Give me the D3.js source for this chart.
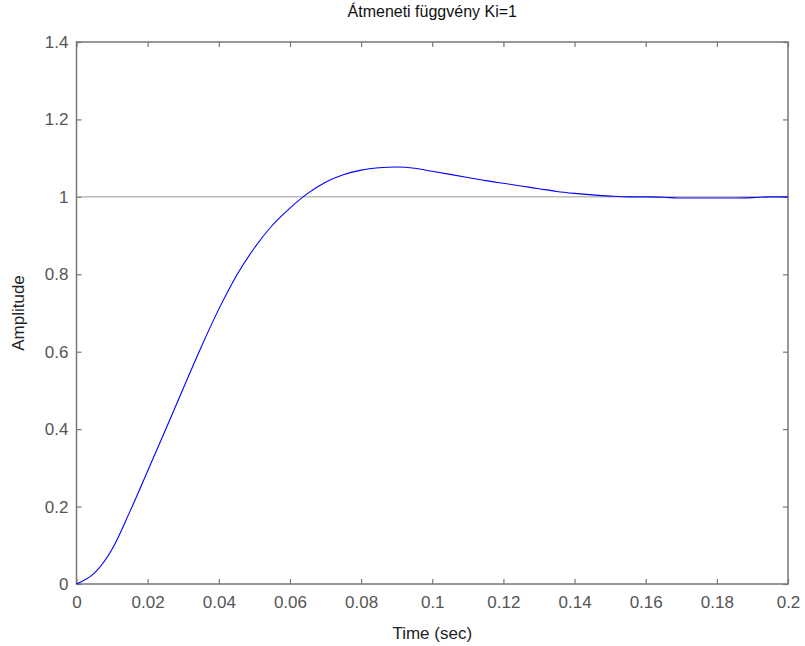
<!DOCTYPE html>
<html>
<head>
<meta charset="utf-8">
<script src="https://cdn.jsdelivr.net/npm/d3@7"></script>
<style>
  body { margin: 0; background: #fff; }
  text { font-family: "Liberation Sans", Arial, sans-serif; }
</style>
</head>
<body>
<div id="chart"></div>
<script>
/* step response, values every 5 ms */
var time = [0, 0.005, 0.01, 0.015, 0.02, 0.025, 0.03, 0.035, 0.04, 0.045, 0.05,
  0.055, 0.06, 0.065, 0.07, 0.075, 0.08, 0.085, 0.09, 0.095, 0.1,
  0.105, 0.11, 0.115, 0.12, 0.125, 0.13, 0.135, 0.14, 0.145, 0.15,
  0.155, 0.16, 0.165, 0.17, 0.175, 0.18, 0.185, 0.19, 0.195, 0.2];
var amplitude = [0, 0.028, 0.09, 0.187, 0.292, 0.398, 0.505, 0.611, 0.710, 0.797, 0.868,
  0.926, 0.971, 1.009, 1.038, 1.057, 1.069, 1.075, 1.077, 1.074, 1.066,
  1.058, 1.050, 1.042, 1.035, 1.028, 1.021, 1.014, 1.009, 1.005, 1.002,
  1.000, 1.000, 0.999, 0.997, 0.997, 0.997, 0.997, 0.998, 1.000, 1.000];
var xTicks = [0, 0.02, 0.04, 0.06, 0.08, 0.1, 0.12, 0.14, 0.16, 0.18, 0.2];
var yTicks = [0, 0.2, 0.4, 0.6, 0.8, 1, 1.2, 1.4];
var finalValue = 1;

var W = 805, H = 646;
var margin = { top: 42, right: 17, bottom: 62, left: 76.5 };
var width = W - margin.left - margin.right;
var height = H - margin.top - margin.bottom;

var svg = d3.select("#chart").append("svg")
  .attr("width", W)
  .attr("height", H);

var g = svg.append("g")
  .attr("transform", "translate(" + margin.left + "," + margin.top + ")");

var x = d3.scaleLinear().domain([0, 0.2]).range([0, width]);
var y = d3.scaleLinear().domain([0, 1.4]).range([height, 0]);

var fmt = function(d) { return String(+d.toFixed(2)); };
var axisColor = "#777";
var tickLen = 5;

// axes: inward ticks on all four sides
var xb = g.append("g").attr("transform", "translate(0," + height + ")")
  .call(d3.axisBottom(x).tickValues(xTicks).tickFormat(fmt).tickSizeInner(-tickLen).tickSizeOuter(0).tickPadding(12));
var xt = g.append("g")
  .call(d3.axisTop(x).tickValues(xTicks).tickFormat("").tickSizeInner(-tickLen).tickSizeOuter(0));
var yl = g.append("g")
  .call(d3.axisLeft(y).tickValues(yTicks).tickFormat(fmt).tickSizeInner(-tickLen).tickSizeOuter(0).tickPadding(8));
var yr = g.append("g").attr("transform", "translate(" + width + ",0)")
  .call(d3.axisRight(y).tickValues(yTicks).tickFormat("").tickSizeInner(-tickLen).tickSizeOuter(0));

[xb, xt, yl, yr].forEach(function(a) {
  a.select(".domain").remove();
  a.selectAll("line").attr("stroke", axisColor).attr("stroke-width", 1.2);
  a.selectAll("text").attr("fill", "#555").style("font-size", "17px")
    .style("font-family", "'Liberation Sans', Arial, sans-serif");
});

// box
g.append("rect")
  .attr("x", 0).attr("y", 0)
  .attr("width", width).attr("height", height)
  .attr("fill", "none")
  .attr("stroke", axisColor)
  .attr("stroke-width", 1.5);

// steady state line
g.append("line")
  .attr("x1", x(0)).attr("x2", x(0.2))
  .attr("y1", y(finalValue)).attr("y2", y(finalValue))
  .attr("stroke", "#999")
  .attr("stroke-width", 1);

// response curve
var pts = time.map(function(t, i) { return [t, amplitude[i]]; });
var line = d3.line()
  .x(function(d) { return x(d[0]); })
  .y(function(d) { return y(d[1]); })
  .curve(d3.curveMonotoneX);
g.append("path")
  .datum(pts)
  .attr("d", line)
  .attr("fill", "none")
  .attr("stroke", "#0000ff")
  .attr("stroke-width", 1.1);

// labels
svg.append("text")
  .attr("x", margin.left + width / 2).attr("y", 17)
  .attr("text-anchor", "middle")
  .style("font-size", "16px")
  .attr("fill", "#111")
  .text("Átmeneti függvény Ki=1");

svg.append("text")
  .attr("x", margin.left + width / 2).attr("y", 639)
  .attr("text-anchor", "middle")
  .style("font-size", "17px")
  .attr("fill", "#222")
  .text("Time (sec)");

svg.append("text")
  .attr("transform", "translate(24," + (margin.top + height / 2) + ") rotate(-90)")
  .attr("text-anchor", "middle")
  .style("font-size", "17px")
  .attr("fill", "#222")
  .text("Amplitude");
</script>
</body>
</html>
